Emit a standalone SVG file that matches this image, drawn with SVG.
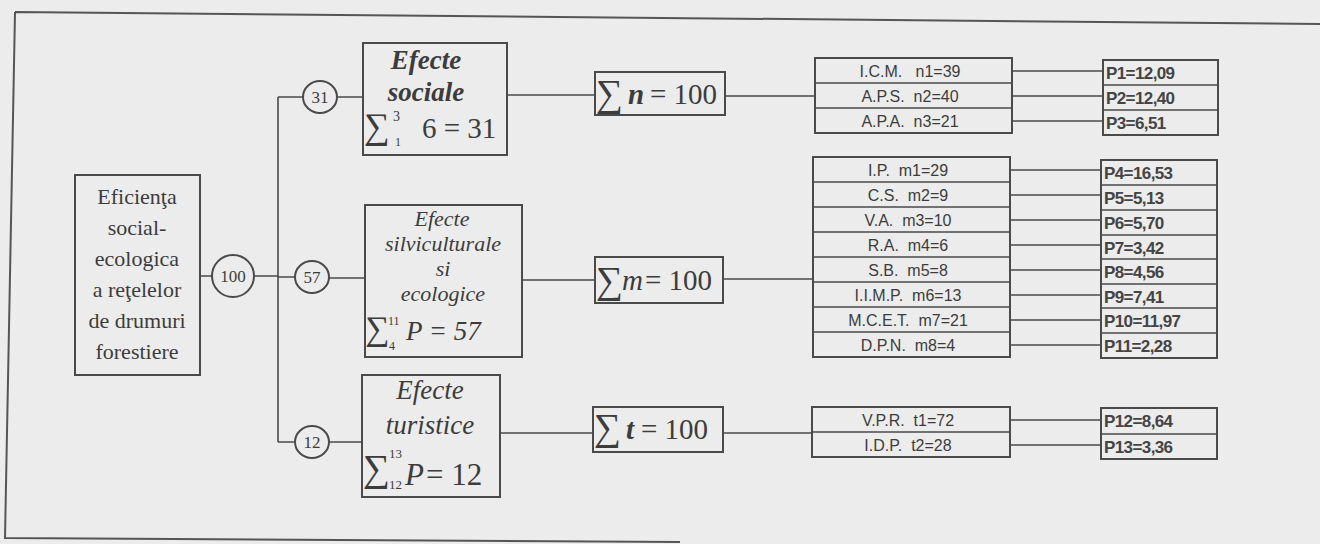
<svg xmlns="http://www.w3.org/2000/svg" width="1320" height="544" viewBox="0 0 1320 544">
<style>
.box{fill:none;stroke:#4a4a4a;stroke-width:2}
.ln{fill:none;stroke:#4a4a4a;stroke-width:1.6}
.sr{font-family:"Liberation Serif","DejaVu Serif",serif;fill:#3c3c3c}
.it{font-family:"Liberation Serif","DejaVu Serif",serif;font-style:italic;fill:#3c3c3c}
.ss{font-family:"Liberation Sans",Arial,sans-serif;font-size:16px;fill:#3c3c3c;white-space:pre}
.pb{font-family:"Liberation Sans",Arial,sans-serif;font-size:17px;font-weight:bold;fill:#444;letter-spacing:-0.6px}
.c{text-anchor:middle}
</style>
<rect width="1320" height="544" fill="#ececec"/>
<path d="M15,12 L1320,24 M15,12 L5,538 L680,542" fill="none" stroke="#555" stroke-width="2"/>

<g id="connectors">
<path class="ln" d="M200,276 H212 M254,276 H278 M278,97 V442 M278,97 H303 M338,97 H363 M278,277 H295 M329,278 H365 M278,442 H295 M329,442 H362"/>
<path class="ln" d="M507,95 H595 M725,96 H815 M522,280 H595 M723,279 H813 M500,433 H593 M723,433 H812"/>
<path class="ln" d="M1012,71 H1103 M1012,96 H1103 M1012,121 H1103"/>
<path class="ln" d="M1010,170 H1101 M1010,195 H1101 M1010,220 H1101 M1010,245 H1101 M1010,270 H1101 M1010,295 H1101 M1010,320 H1101 M1010,345 H1101"/>
<path class="ln" d="M1010,420 H1101 M1010,445 H1101"/>
</g>

<g id="root">
<rect class="box" x="75" y="175" width="125" height="200"/>
<text class="sr c" font-size="22" x="137" y="204">Eficienţa</text>
<text class="sr c" font-size="22" x="137" y="235">social-</text>
<text class="sr c" font-size="22" x="137" y="266">ecologica</text>
<text class="sr c" font-size="22" x="137" y="297">a reţelelor</text>
<text class="sr c" font-size="22" x="137" y="328">de drumuri</text>
<text class="sr c" font-size="22" x="137" y="359">forestiere</text>
</g>

<g id="c100"><ellipse class="box" cx="233" cy="276" rx="21" ry="21"/><text class="sr c" font-size="17" x="233" y="282">100</text></g>
<g id="c31"><ellipse class="box" cx="320" cy="97" rx="17" ry="16"/><text class="sr c" font-size="17" x="320" y="103">31</text></g>
<g id="c57"><ellipse class="box" cx="312" cy="277" rx="17" ry="16"/><text class="sr c" font-size="17" x="312" y="283">57</text></g>
<g id="c12"><ellipse class="box" cx="312" cy="442" rx="17" ry="16"/><text class="sr c" font-size="17" x="312" y="448">12</text></g>

<g id="efecte-sociale">
<rect class="box" x="363" y="43" width="144" height="112"/>
<text class="it c" font-size="27" font-weight="bold" x="426" y="69">Efecte</text>
<text class="it c" font-size="27" font-weight="bold" x="426" y="101">sociale</text>
<text class="sr" font-size="36" x="364" y="138">∑</text>
<text class="sr" font-size="14" x="393" y="121">3</text>
<text class="sr" font-size="12" x="395" y="146">1</text>
<text class="sr" font-size="29" x="422" y="138">6 = 31</text>
</g>

<g id="efecte-silviculturale">
<rect class="box" x="365" y="205" width="157" height="152"/>
<text class="it c" font-size="22" x="442" y="226">Efecte</text>
<text class="it c" font-size="22" x="443" y="251">silviculturale</text>
<text class="it c" font-size="22" x="443" y="276">si</text>
<text class="it c" font-size="22" x="443" y="301">ecologice</text>
<text class="sr" font-size="34" x="365" y="340">∑</text>
<text class="sr" font-size="12" x="388" y="325">11</text>
<text class="sr" font-size="12" x="389" y="350">4</text>
<text class="it" font-size="27" x="406" y="340">P = 57</text>
</g>

<g id="efecte-turistice">
<rect class="box" x="362" y="375" width="138" height="122"/>
<text class="it c" font-size="27" x="430" y="399">Efecte</text>
<text class="it c" font-size="27" x="430" y="434">turistice</text>
<text class="sr" font-size="38" x="363" y="481">∑</text>
<text class="sr" font-size="13" x="389" y="458">13</text>
<text class="sr" font-size="13" x="389" y="489">12</text>
<text class="it" font-size="31" x="405" y="485">P</text>
<text class="sr" font-size="31" x="426" y="485">= 12</text>
</g>

<g id="sum-n">
<rect class="box" x="595" y="72" width="130" height="43"/>
<text class="sr" font-size="38" x="596" y="106">∑</text>
<text class="it" font-size="29" font-weight="bold" x="628" y="104">n</text>
<text class="sr" font-size="29" x="650" y="104">= 100</text>
</g>

<g id="sum-m">
<rect class="box" x="595" y="257" width="128" height="46"/>
<text class="sr" font-size="38" x="596" y="293">∑</text>
<text class="it" font-size="29" x="622" y="290">m</text>
<text class="sr" font-size="29" x="645" y="290">= 100</text>
</g>

<g id="sum-t">
<rect class="box" x="593" y="407" width="130" height="45"/>
<text class="sr" font-size="38" x="594" y="440">∑</text>
<text class="it" font-size="29" font-weight="bold" x="626" y="439">t</text>
<text class="sr" font-size="29" x="641" y="439">= 100</text>
</g>

<g id="social-indicators">
<rect class="box" x="815" y="58" width="197" height="75"/>
<path class="ln" d="M815,83 H1012 M815,108 H1012"/>
<text class="ss c" x="910" y="77">I.C.M.   n1=39</text>
<text class="ss c" x="910" y="102">A.P.S.  n2=40</text>
<text class="ss c" x="910" y="127">A.P.A.  n3=21</text>
</g>

<g id="silv-indicators">
<rect class="box" x="813" y="157" width="197" height="200"/>
<path class="ln" d="M813,182 H1010 M813,207 H1010 M813,232 H1010 M813,257 H1010 M813,282 H1010 M813,307 H1010 M813,332 H1010"/>
<text class="ss c" x="908" y="176">I.P.  m1=29</text>
<text class="ss c" x="908" y="201">C.S.  m2=9</text>
<text class="ss c" x="908" y="226">V.A.  m3=10</text>
<text class="ss c" x="908" y="251">R.A.  m4=6</text>
<text class="ss c" x="908" y="276">S.B.  m5=8</text>
<text class="ss c" x="908" y="301">I.I.M.P.  m6=13</text>
<text class="ss c" x="908" y="326">M.C.E.T.  m7=21</text>
<text class="ss c" x="908" y="351">D.P.N.  m8=4</text>
</g>

<g id="tur-indicators">
<rect class="box" x="812" y="407" width="198" height="50"/>
<path class="ln" d="M812,432 H1010"/>
<text class="ss c" x="908" y="426">V.P.R.  t1=72</text>
<text class="ss c" x="908" y="451">I.D.P.  t2=28</text>
</g>

<g id="p-social">
<rect class="box" x="1103" y="60" width="115" height="75"/>
<path class="ln" d="M1103,85 H1218 M1103,110 H1218"/>
<text class="pb" x="1106" y="79">P1=12,09</text>
<text class="pb" x="1106" y="104">P2=12,40</text>
<text class="pb" x="1106" y="129">P3=6,51</text>
</g>

<g id="p-silv">
<rect class="box" x="1101" y="160" width="116" height="198"/>
<path class="ln" d="M1101,185 H1217 M1101,210 H1217 M1101,235 H1217 M1101,259 H1217 M1101,284 H1217 M1101,308 H1217 M1101,333 H1217"/>
<text class="pb" x="1104" y="179">P4=16,53</text>
<text class="pb" x="1104" y="204">P5=5,13</text>
<text class="pb" x="1104" y="229">P6=5,70</text>
<text class="pb" x="1104" y="254">P7=3,42</text>
<text class="pb" x="1104" y="278">P8=4,56</text>
<text class="pb" x="1104" y="303">P9=7,41</text>
<text class="pb" x="1104" y="327">P10=11,97</text>
<text class="pb" x="1104" y="352">P11=2,28</text>
</g>

<g id="p-tur">
<rect class="box" x="1101" y="408" width="116" height="51"/>
<path class="ln" d="M1101,434 H1217"/>
<text class="pb" x="1104" y="427">P12=8,64</text>
<text class="pb" x="1104" y="453">P13=3,36</text>
</g>
</svg>
